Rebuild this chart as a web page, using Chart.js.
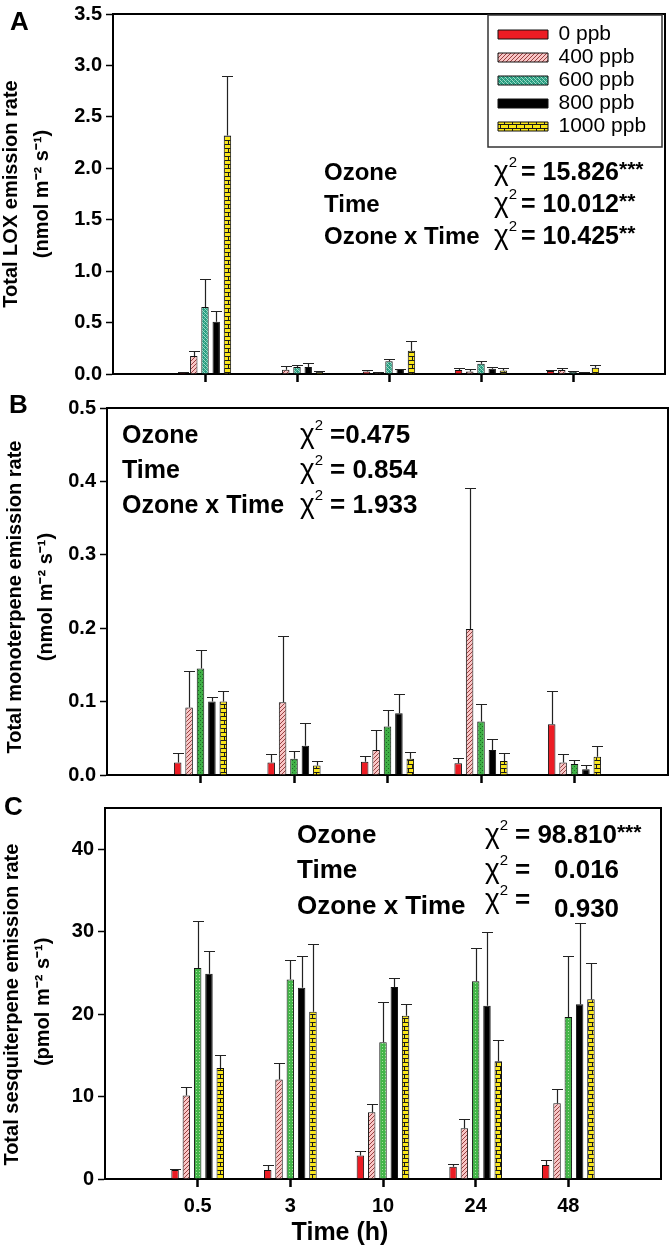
<!DOCTYPE html>
<html><head><meta charset="utf-8">
<script src="https://cdn.jsdelivr.net/npm/chart.js@4.4.1/dist/chart.umd.min.js"></script>
<style>
html,body{margin:0;padding:0;background:#fff;}
body{width:670px;height:1248px;position:relative;overflow:hidden;}
canvas{position:absolute;left:0;}
</style></head><body>
<canvas id="cA" width="670" height="392" style="top:0px"></canvas>
<canvas id="cB" width="670" height="398" style="top:392px"></canvas>
<canvas id="cC" width="670" height="458" style="top:790px"></canvas>
<script>
// ---------------- DATA ----------------
const timeLabels = ['0.5', '3', '10', '24', '48'];
const seriesNames = ['0 ppb', '400 ppb', '600 ppb', '800 ppb', '1000 ppb'];

// Panel A: total LOX emission rate (nmol m-2 s-1)
const loxTicks = [0, 0.5, 1, 1.5, 2, 2.5, 3, 3.5];
const lox0    = [0.010, 0.008, 0.025, 0.040, 0.030];
const lox400  = [0.175, 0.041, 0.012, 0.025, 0.040];
const lox600  = [0.652, 0.067, 0.125, 0.100, 0.020];
const lox800  = [0.507, 0.067, 0.048, 0.050, 0.015];
const lox1000 = [2.318, 0.026, 0.225, 0.035, 0.060];
const loxErr0    = [0.010, 0.004, 0.015, 0.020, 0.012];
const loxErr400  = [0.050, 0.035, 0.005, 0.020, 0.018];
const loxErr600  = [0.270, 0.023, 0.020, 0.022, 0.005];
const loxErr800  = [0.105, 0.040, 0.005, 0.022, 0.004];
const loxErr1000 = [0.575, 0.006, 0.095, 0.022, 0.030];

// Panel B: total monoterpene emission rate (nmol m-2 s-1)
const monoTicks = [0, 0.1, 0.2, 0.3, 0.4, 0.5];
const mono0    = [0.017, 0.017, 0.018, 0.016, 0.069];
const mono400  = [0.092, 0.099, 0.034, 0.199, 0.017];
const mono600  = [0.145, 0.022, 0.066, 0.073, 0.015];
const mono800  = [0.100, 0.040, 0.084, 0.034, 0.008];
const mono1000 = [0.100, 0.013, 0.022, 0.019, 0.025];
const monoErr0    = [0.013, 0.012, 0.008, 0.007, 0.046];
const monoErr400  = [0.050, 0.091, 0.027, 0.192, 0.012];
const monoErr600  = [0.025, 0.011, 0.022, 0.024, 0.006];
const monoErr800  = [0.006, 0.031, 0.026, 0.015, 0.005];
const monoErr1000 = [0.014, 0.006, 0.009, 0.011, 0.014];

// Panel C: total sesquiterpene emission rate (pmol m-2 s-1)
const sesqTicks = [0, 10, 20, 30, 40];
const sesq0    = [1.09, 1.09, 2.84, 1.50, 1.70];
const sesq400  = [10.13, 12.08, 8.10, 6.16, 9.20];
const sesq600  = [25.6, 24.2, 16.6, 24.0, 19.66];
const sesq800  = [24.9, 23.2, 23.3, 21.0, 21.2];
const sesq1000 = [13.45, 20.3, 19.8, 14.27, 21.8];
const sesqErr0    = [0.13, 0.60, 0.50, 0.32, 0.60];
const sesqErr400  = [1.00, 2.00, 1.00, 1.14, 1.74];
const sesqErr600  = [5.70, 2.40, 4.90, 4.00, 7.40];
const sesqErr800  = [2.70, 3.90, 1.10, 9.00, 9.80];
const sesqErr1000 = [1.60, 8.20, 1.40, 2.55, 4.38];

// ---------------- STYLE ----------------
const FONT = "'Liberation Sans', Arial, Helvetica, sans-serif";
Chart.defaults.font.family = FONT;

function makePattern(w, h, draw) {
  const c = document.createElement('canvas'); c.width = w; c.height = h;
  const g = c.getContext('2d'); draw(g, w, h);
  return g.createPattern(c, 'repeat');
}
const RED = '#ec1c24';
const PINK = makePattern(4, 4, (g) => {
  g.fillStyle = '#f8c6c6'; g.fillRect(0, 0, 4, 4);
  g.strokeStyle = '#9a4040'; g.lineWidth = 1;
  g.beginPath(); g.moveTo(-1, 5); g.lineTo(5, -1); g.moveTo(-1, 1); g.lineTo(1, -1); g.moveTo(3, 5); g.lineTo(5, 3); g.stroke();
});
const TEAL = makePattern(4, 4, (g) => {
  g.fillStyle = '#289c80'; g.fillRect(0, 0, 4, 4);
  g.fillStyle = '#9fdcc8'; g.fillRect(0, 0, 1, 1); g.fillRect(2, 2, 1, 1); g.fillRect(1, 1, 1, 1); g.fillRect(3, 3, 1, 1);
  g.fillStyle = '#62c0a4'; g.fillRect(2, 0, 1, 1); g.fillRect(0, 2, 1, 1);
});
const GREEN_B = makePattern(4, 4, (g) => {
  g.fillStyle = '#3fb046'; g.fillRect(0, 0, 4, 4);
  g.fillStyle = '#1d6a24'; g.fillRect(0, 0, 1, 1); g.fillRect(2, 2, 1, 1);
});
const GREEN_C = makePattern(3, 3, (g) => {
  g.fillStyle = '#44b649'; g.fillRect(0, 0, 3, 3);
  g.fillStyle = '#a8e0a0'; g.fillRect(1, 1, 1, 1);
});
const YELLOW = makePattern(8, 8, (g) => {
  g.fillStyle = '#f9e61a'; g.fillRect(0, 0, 8, 8);
  g.fillStyle = '#1a1a1a';
  g.fillRect(0, 0, 8, 1); g.fillRect(0, 4, 8, 1);
  g.fillRect(0, 0, 1, 4); g.fillRect(4, 4, 1, 4);
});

function pad(arr) { return [null, ...arr, null]; }
const paddedLabels = ['', ...timeLabels, ''];

// ---------------- PLUGINS ----------------
const errorBars = {
  id: 'errorBars',
  afterDatasetsDraw(chart, args, opts) {
    const ctx = chart.ctx, ys = chart.scales.y;
    ctx.save(); ctx.strokeStyle = opts.color; ctx.lineWidth = opts.width;
    chart.data.datasets.forEach((ds, i) => {
      const meta = chart.getDatasetMeta(i);
      if (!ds.errors) return;
      meta.data.forEach((bar, j) => {
        const v = ds.data[j], e = ds.errors[j];
        if (v == null || e == null) return;
        const yTop = Math.round(ys.getPixelForValue(v + e)) + 0.5;
        const x = Math.round(bar.x) + 0.5;
        ctx.beginPath();
        ctx.moveTo(x, bar.y); ctx.lineTo(x, yTop);
        ctx.moveTo(x - opts.cap / 2, yTop); ctx.lineTo(x + opts.cap / 2, yTop);
        ctx.stroke();
      });
    });
    ctx.restore();
  }
};
const frame = {
  id: 'frame',
  afterDraw(chart, args, opts) {
    const {left, right, top, bottom} = chart.chartArea, ctx = chart.ctx;
    ctx.save(); ctx.strokeStyle = '#000'; ctx.lineWidth = opts.width;
    ctx.beginPath(); ctx.moveTo(left - 1, top); ctx.lineTo(right, top); ctx.lineTo(right, bottom + 1); ctx.stroke();
    if (opts.legendBox) {
      const b = opts.legendBox;
      ctx.lineWidth = 1.5; ctx.strokeStyle = '#333';
      ctx.strokeRect(b[0], b[1], b[2], b[3]);
    }
    ctx.restore();
  }
};
const legendMove = {
  id: 'legendMove',
  afterLayout(chart, args, opts) {
    const lg = chart.legend;
    if (!lg || !opts.enabled) return;
    const w = lg.width, h = lg.height;
    lg.left = opts.left; lg.top = opts.top; lg.right = opts.left + w; lg.bottom = opts.top + h;
  }
};
const texts = {
  id: 'texts',
  afterDraw(chart, args, opts) {
    const ctx = chart.ctx;
    ctx.save(); ctx.fillStyle = '#000'; ctx.textBaseline = 'alphabetic';
    (opts.items || []).forEach(it => {
      let x = it.x;
      ctx.textAlign = it.align || 'left';
      it.segs.forEach(s => {
        ctx.font = s.f + ' ' + FONT;
        ctx.fillText(s.t, s.x != null ? s.x : x, it.y + (s.dy || 0));
        x = (s.x != null ? s.x : x) + ctx.measureText(s.t).width;
      });
    });
    ctx.restore();
  }
};

function chi(x, y, rest) {
  return { x: x, y: y, segs: [{ t: 'χ', f: '28px' }, { t: '2', f: '15px', dy: -13 }].concat(rest) };
}

// ---------------- BUILD ----------------
function makeChart(id, p) {
  const vals = p.values, errs = p.errors, colors = p.colors;
  const datasets = seriesNames.map((name, i) => ({
    label: name,
    data: pad(vals[i]),
    errors: pad(errs[i]),
    backgroundColor: colors[i],
    borderColor: '#111',
    borderWidth: 1,
    categoryPercentage: 0.61,
    barPercentage: 0.66
  }));
  return new Chart(document.getElementById(id), {
    type: 'bar',
    data: { labels: paddedLabels, datasets },
    plugins: [errorBars, frame, legendMove, texts],
    options: {
      responsive: false, animation: false, events: [], devicePixelRatio: 1,
      layout: { padding: { top: p.areaTop, right: p.padRight, left: 0, bottom: 0 } },
      scales: {
        x: {
          type: 'category', offset: false,
          grid: {
            display: true, offset: false, drawOnChartArea: false, drawTicks: true, tickLength: 8, tickWidth: 2.5,
            tickColor: (c) => (c.index === 0 || c.index === paddedLabels.length - 1) ? 'rgba(0,0,0,0)' : '#000'
          },
          border: { display: true, color: '#000', width: 2 },
          ticks: {
            display: p.showX, autoSkip: false, maxRotation: 0, minRotation: 0, color: '#000', padding: 9,
            font: { family: FONT, size: 20, weight: 'bold', lineHeight: 1 }
          },
          afterFit: (s) => { s.height = p.xHeight; }
        },
        y: {
          min: 0, max: p.yMax,
          afterBuildTicks: (s) => { s.ticks = p.yTicks.map(v => ({ value: v })); },
          ticks: {
            color: '#000', padding: 4,
            font: { family: FONT, size: 20, weight: 'bold', lineHeight: 1 },
            callback: (v) => Number(v).toFixed(p.decimals)
          },
          grid: { drawOnChartArea: false, drawTicks: true, tickLength: 7, tickWidth: 1.5, tickColor: '#000' },
          border: { display: true, color: '#000', width: 2 },
          title: {
            display: true, text: p.yTitle, color: '#000',
            font: { family: FONT, size: 20, weight: 'bold', lineHeight: '31px' },
            padding: { top: p.titlePad, bottom: 0 }
          },
          afterFit: (s) => { s.width = p.yWidth; }
        }
      },
      plugins: {
        tooltip: { enabled: false },
        legend: p.legend ? {
          display: true, position: 'chartArea', fullSize: false, align: 'start',
          labels: { boxWidth: 50, boxHeight: 9, padding: 2, color: '#000', font: { family: FONT, size: 21 } }
        } : { display: false },
        legendMove: p.legend ? { enabled: true, left: 496, top: 22 } : { enabled: false },
        errorBars: { color: '#222', width: 1.2, cap: 11 },
        frame: { width: 2, legendBox: p.legendBox || null },
        texts: { items: p.texts }
      }
    }
  });
}

makeChart('cA', {
  values: [lox0, lox400, lox600, lox800, lox1000],
  errors: [loxErr0, loxErr400, loxErr600, loxErr800, loxErr1000],
  colors: [RED, PINK, TEAL, '#000', YELLOW],
  yTicks: loxTicks, yMax: 3.5, decimals: 1,
  yTitle: ['Total LOX emission rate', '(nmol m⁻² s⁻¹)'], titlePad: -4,
  areaTop: 10, padRight: 5, yWidth: 113, xHeight: 18, showX: false,
  legend: true, legendBox: [488, 15, 174, 132],
  texts: [
    { x: 10, y: 30, segs: [{ t: 'A', f: 'bold 26px' }] },
    { x: 324, y: 180, segs: [{ t: 'Ozone', f: 'bold 24px' }] },
    { x: 324, y: 212, segs: [{ t: 'Time', f: 'bold 24px' }] },
    { x: 324, y: 244, segs: [{ t: 'Ozone x Time', f: 'bold 24px' }] },
    chi(494, 180, [{ t: '= 15.826', f: 'bold 25px', x: 521 }, { t: '***', f: 'bold 21px', dy: -4 }]),
    chi(494, 212, [{ t: '= 10.012', f: 'bold 25px', x: 521 }, { t: '**', f: 'bold 21px', dy: -4 }]),
    chi(494, 244, [{ t: '= 10.425', f: 'bold 25px', x: 521 }, { t: '**', f: 'bold 21px', dy: -4 }])
  ]
});

makeChart('cB', {
  values: [mono0, mono400, mono600, mono800, mono1000],
  errors: [monoErr0, monoErr400, monoErr600, monoErr800, monoErr1000],
  colors: [RED, PINK, GREEN_B, '#000', YELLOW],
  yTicks: monoTicks, yMax: 0.5, decimals: 1,
  yTitle: ['Total monoterpene emission rate  ', '(nmol m⁻² s⁻¹)  '], titlePad: 0,
  areaTop: 16, padRight: 2, yWidth: 107, xHeight: 15, showX: false,
  legend: false,
  texts: [
    { x: 9, y: 21, segs: [{ t: 'B', f: 'bold 26px' }] },
    { x: 122, y: 51, segs: [{ t: 'Ozone', f: 'bold 25px' }] },
    { x: 122, y: 86, segs: [{ t: 'Time', f: 'bold 25px' }] },
    { x: 122, y: 121, segs: [{ t: 'Ozone x Time', f: 'bold 25px' }] },
    chi(300, 51, [{ t: '=0.475', f: 'bold 26px', x: 330 }]),
    chi(300, 86, [{ t: '= 0.854', f: 'bold 26px', x: 330 }]),
    chi(300, 121, [{ t: '= 1.933', f: 'bold 26px', x: 330 }])
  ]
});

makeChart('cC', {
  values: [sesq0, sesq400, sesq600, sesq800, sesq1000],
  errors: [sesqErr0, sesqErr400, sesqErr600, sesqErr800, sesqErr1000],
  colors: [RED, PINK, GREEN_C, '#000', YELLOW],
  yTicks: sesqTicks, yMax: 45, decimals: 0,
  yTitle: ['Total sesquiterpene emission rate    ', '(pmol m⁻² s⁻¹)   '], titlePad: -3,
  areaTop: 18, padRight: 4, yWidth: 105, xHeight: 69, showX: true,
  legend: false,
  texts: [
    { x: 4, y: 25, segs: [{ t: 'C', f: 'bold 26px' }] },
    { x: 297, y: 53, segs: [{ t: 'Ozone', f: 'bold 26px' }] },
    { x: 297, y: 88, segs: [{ t: 'Time', f: 'bold 26px' }] },
    { x: 297, y: 124, segs: [{ t: 'Ozone x Time', f: 'bold 26px' }] },
    chi(485, 53, [{ t: '= 98.810', f: 'bold 26px', x: 515 }, { t: '***', f: 'bold 21px', dy: -4 }]),
    chi(485, 88, [{ t: '=', f: 'bold 26px', x: 515 }, { t: '0.016', f: 'bold 26px', x: 554 }]),
    chi(485, 118, [{ t: '=', f: 'bold 26px', x: 515 }, { t: '0.930', f: 'bold 26px', x: 554, dy: 9 }]),
    { x: 340, y: 450, align: 'center', segs: [{ t: 'Time (h)', f: 'bold 25px' }] }
  ]
});
</script>
</body></html>
